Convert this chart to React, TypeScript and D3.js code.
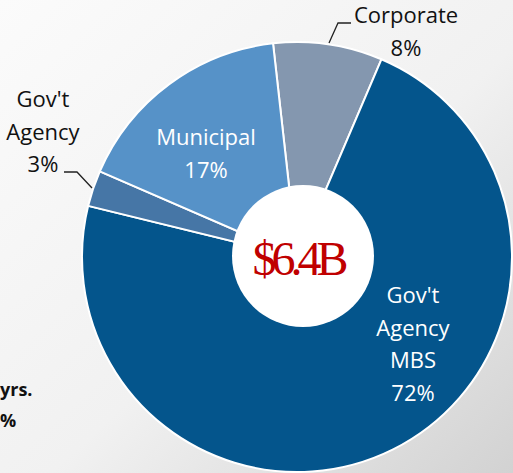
import { useEffect, useRef } from 'react'
import * as d3 from 'd3'

// portfolio mix, clockwise from the top
const categories = ['Corporate', 'Gov\'t Agency MBS', 'Gov\'t Agency', 'Municipal']
const shares = [8.2, 72.4, 2.7, 16.7]
const percentLabels = ['8%', '72%', '3%', '17%']
const sliceColors = ['#8497af', '#04558c', '#4676a6', '#5692c8']
const totalLabel = '$6.4B'

const W = 513
const H = 473

const App = () => {
  const svgRef = useRef<SVGSVGElement>(null)

  useEffect(() => {
    if (!svgRef.current) return
    const svg = d3.select(svgRef.current)
    svg.selectAll('*').remove()

    const defs = svg.append('defs')
    const grad = defs.append('linearGradient')
      .attr('id', 'bg')
      .attr('x1', 0).attr('y1', 0).attr('x2', 1).attr('y2', 1)
    grad.append('stop').attr('offset', 0).attr('stop-color', '#fbfbfb')
    grad.append('stop').attr('offset', 0.55).attr('stop-color', '#f1f1f1')
    grad.append('stop').attr('offset', 1).attr('stop-color', '#d2d2d2')

    svg.append('rect').attr('width', W).attr('height', H).attr('fill', 'url(#bg)')

    const cx = 297
    const cy = 257
    const radius = 215

    const data = categories.map((name, i) => ({ name, value: shares[i], label: percentLabels[i], color: sliceColors[i] }))

    const pie = d3.pie<typeof data[0]>()
      .sort(null)
      .value(d => d.value)
      .startAngle(-6.4 * Math.PI / 180)
      .endAngle(2 * Math.PI - 6.4 * Math.PI / 180)

    const arc = d3.arc<d3.PieArcDatum<typeof data[0]>>()
      .innerRadius(0)
      .outerRadius(radius)

    const g = svg.append('g').attr('transform', `translate(${cx},${cy})`)
    const arcs = pie(data)

    g.selectAll('path')
      .data(arcs)
      .enter()
      .append('path')
      .attr('d', arc)
      .attr('fill', d => d.data.color)
      .attr('stroke', '#ffffff')
      .attr('stroke-width', 2)
      .attr('stroke-linejoin', 'round')

    // centre hole
    svg.append('circle')
      .attr('cx', 303)
      .attr('cy', 256)
      .attr('r', 71)
      .attr('fill', '#ffffff')

    svg.append('text')
      .attr('x', 298)
      .attr('y', 275)
      .attr('text-anchor', 'middle')
      .style('font-family', '"Liberation Serif", "DejaVu Serif", serif')
      .style('font-size', '48px')
      .style('letter-spacing', '-5px')
      .style('fill', '#c00000')
      .text(totalLabel)

    const font = '"Open Sans", "Noto Sans", sans-serif'
    const lineGap = 32.5

    const addLabel = (lines: string[], x: number, y: number, color: string) => {
      const t = svg.append('text')
        .attr('text-anchor', 'middle')
        .style('font-family', font)
        .style('font-size', '22px')
        .style('fill', color)
      lines.forEach((line, i) => {
        t.append('tspan').attr('x', x).attr('y', y + i * lineGap).text(line)
      })
    }

    // Corporate, outside with leader
    addLabel([categories[0], percentLabels[0]], 406, 23, '#111111')
    // MBS inside
    addLabel(['Gov\'t', 'Agency', 'MBS', percentLabels[1]], 413, 303, '#ffffff')
    // Gov't Agency outside with leader
    addLabel(['Gov\'t', 'Agency', percentLabels[2]], 43, 107, '#111111')
    // Municipal inside
    addLabel([categories[3], percentLabels[3]], 206, 145, '#ffffff')

    const line = d3.line()
    svg.append('path')
      .attr('d', line([[329, 43], [338, 23], [351, 23]]))
      .attr('fill', 'none')
      .attr('stroke', '#222222')
      .attr('stroke-width', 1.3)
    svg.append('path')
      .attr('d', line([[64, 172], [77, 172], [92, 188]]))
      .attr('fill', 'none')
      .attr('stroke', '#222222')
      .attr('stroke-width', 1.3)

    // text from the neighbouring panel at the left edge of the slide
    svg.append('text')
      .attr('x', 0)
      .attr('y', 396)
      .style('font-family', font)
      .style('font-weight', 'bold')
      .style('font-size', '18px')
      .style('fill', '#111111')
      .text('yrs.')
    svg.append('text')
      .attr('x', 0)
      .attr('y', 427)
      .style('font-family', font)
      .style('font-weight', 'bold')
      .style('font-size', '18px')
      .style('fill', '#111111')
      .text('%')
  }, [])

  return (
    <div style={{ position: 'fixed', left: 0, top: 0, width: W, height: H, overflow: 'hidden' }}>
      <svg ref={svgRef} width={W} height={H} style={{ display: 'block' }} />
    </div>
  )
}

export default App
